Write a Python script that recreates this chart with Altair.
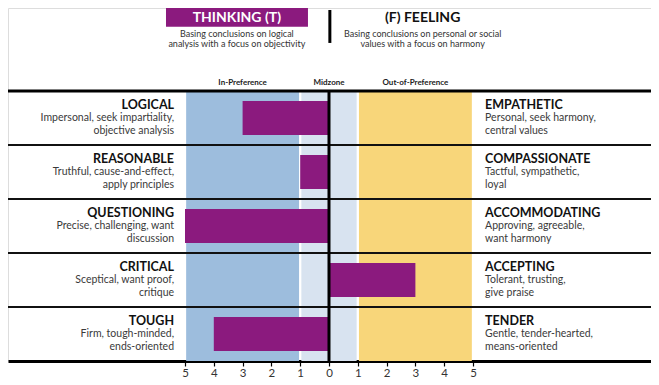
import altair as alt
import pandas as pd

# ---------------- data ----------------
left_titles = ["LOGICAL", "REASONABLE", "QUESTIONING", "CRITICAL", "TOUGH"]
left_descs = [
    "Impersonal, seek impartiality,\nobjective analysis",
    "Truthful, cause-and-effect,\napply principles",
    "Precise, challenging, want\ndiscussion",
    "Sceptical, want proof,\ncritique",
    "Firm, tough-minded,\nends-oriented",
]
right_titles = ["EMPATHETIC", "COMPASSIONATE", "ACCOMMODATING", "ACCEPTING", "TENDER"]
right_descs = [
    "Personal, seek harmony,\ncentral values",
    "Tactful, sympathetic,\nloyal",
    "Approving, agreeable,\nwant harmony",
    "Tolerant, trusting,\ngive praise",
    "Gentle, tender-hearted,\nmeans-oriented",
]
# negative = Thinking side (left), positive = Feeling side (right)
scores = [-3, -1, -5, 3, -4]

zone_names = ["In-Preference", "Midzone", "Out-of-Preference"]
zone_start = [-5, -1, 1]
zone_end = [-1, 1, 5]
zone_colors = ["#9DBDDD", "#D8E3F0", "#F8D67A"]

tick_values = [-5, -4, -3, -2, -1, 0, 1, 2, 3, 4, 5]

left_header = "THINKING (T)"
left_sub = "Basing conclusions on logical\nanalysis with a focus on objectivity"
right_header = "(F) FEELING"
right_sub = "Basing conclusions on personal or social\nvalues with a focus on harmony"

# ---------------- layout ----------------
W, H = 643, 353
XDOM = [-11.146, 11.181]
YDOM = [0, 6.537]
PURPLE = "#8B1A7E"
FONT = "Lato"

n = len(left_titles)
rows = pd.DataFrame({
    "row": list(range(n - 1, -1, -1)),  # top row = highest index
    "lt": left_titles, "ld": left_descs,
    "rt": right_titles, "rd": right_descs,
    "score": scores,
})
rows["y0"] = rows["row"] + 0.185
rows["y1"] = rows["row"] + 0.815
rows["ty"] = rows["row"] + 1 - 0.333
rows["dy"] = rows["row"] + 1 - 0.556
rows["zero"] = 0
rows["lx"] = -5.38
rows["rx"] = 5.42

zones = pd.DataFrame({"name": zone_names, "x0": zone_start, "x1": zone_end,
                      "color": zone_colors, "y0": 0, "y1": 5})
zones["xa"] = zones["x0"] + 0.04
zones["xb"] = zones["x1"] - 0.04
zones["cx"] = (zones["x0"] + zones["x1"]) / 2
zones["hy"] = 5.11

xs = alt.Scale(domain=XDOM, nice=False, zero=False)
ys = alt.Scale(domain=YDOM, nice=False, zero=False)

x_axis = alt.Axis(values=tick_values, labelExpr="abs(datum.value)",
                  title=None, grid=False, domainColor="black",
                  domainWidth=3, tickColor="black", tickWidth=1.2,
                  tickSize=5, labelPadding=1, labelFontSize=11.5,
                  labelColor="#333333", labelFont=FONT, labelFlush=False)


def X(f):
    return alt.X(f, scale=xs, axis=x_axis)


def Y(f):
    return alt.Y(f, scale=ys, axis=None)


base = alt.Chart(rows)

bg = alt.Chart(zones).mark_rect().encode(
    x=X("xa:Q"), x2="xb:Q", y=Y("y0:Q"), y2="y1:Q",
    color=alt.Color("color:N", scale=None),
)

zone_labels = alt.Chart(zones).mark_text(
    fontSize=8, fontWeight="bold", font=FONT, color="#222222", baseline="alphabetic"
).encode(x=X("cx:Q"), y=Y("hy:Q"), text="name:N")

bars = base.mark_rect(color=PURPLE).encode(
    x=X("score:Q"), x2="zero:Q", y=Y("y0:Q"), y2="y1:Q",
)

lines_df = pd.DataFrame({"u": [1, 2, 3, 4]})
row_lines = alt.Chart(lines_df).mark_rule(color="#111111", strokeWidth=2).encode(
    y=Y("u:Q"))
top_line = alt.Chart(pd.DataFrame({"u": [5]})).mark_rule(color="black", strokeWidth=3).encode(
    y=Y("u:Q"))
zero_line = alt.Chart(pd.DataFrame({"x": [0], "y0": [0], "y1": [5]})).mark_rule(
    color="black", strokeWidth=3).encode(x=X("x:Q"), y=Y("y0:Q"), y2="y1:Q")

lt = base.mark_text(align="right", baseline="alphabetic", fontSize=12.5,
                    fontWeight="bold", font=FONT, color="#111111").encode(
    x=X("lx:Q"), y=Y("ty:Q"), text="lt:N")
ld = base.mark_text(align="right", baseline="alphabetic", fontSize=10.5,
                    font=FONT, color="#3a3a3a", lineBreak="\n", lineHeight=12.5).encode(
    x=X("lx:Q"), y=Y("dy:Q"), text="ld:N")
rt = base.mark_text(align="left", baseline="alphabetic", fontSize=12.5,
                    fontWeight="bold", font=FONT, color="#111111").encode(
    x=X("rx:Q"), y=Y("ty:Q"), text="rt:N")
rd = base.mark_text(align="left", baseline="alphabetic", fontSize=10.5,
                    font=FONT, color="#3a3a3a", lineBreak="\n", lineHeight=12.5).encode(
    x=X("rx:Q"), y=Y("dy:Q"), text="rd:N")

# header
hdr = pd.DataFrame({
    "x": [-3.2, 3.25], "y": [6.28, 6.28], "t": [left_header, right_header],
    "c": ["white", "#111111"],
    "sy": [6.0, 6.0], "s": [left_sub, right_sub],
})
box = alt.Chart(pd.DataFrame({"x0": [-5.66], "x1": [-0.73], "y0": [6.19], "y1": [6.6]})).mark_rect(
    color=PURPLE).encode(x=X("x0:Q"), x2="x1:Q", y=Y("y0:Q"), y2="y1:Q")
hdr_text = alt.Chart(hdr).mark_text(fontSize=14, fontWeight="bold", font=FONT,
                                    baseline="alphabetic").encode(
    x=X("x:Q"), y=Y("y:Q"), text="t:N", color=alt.Color("c:N", scale=None))
hdr_sub = alt.Chart(hdr).mark_text(fontSize=9, font=FONT, color="#333333",
                                   baseline="alphabetic", lineBreak="\n",
                                   lineHeight=10).encode(
    x=X("x:Q"), y=Y("sy:Q"), text="s:N")
sep = alt.Chart(pd.DataFrame({"x": [0.03], "y0": [5.89], "y1": [6.5]})).mark_rule(
    color="black", strokeWidth=3).encode(x=X("x:Q"), y=Y("y0:Q"), y2="y1:Q")

chart = alt.layer(
    bg, bars, row_lines, top_line, zero_line, zone_labels,
    lt, ld, rt, rd, box, hdr_text, hdr_sub, sep,
).properties(
    width=W, height=H,
    autosize=alt.AutoSizeParams(type="none"),
    padding={"left": 0, "top": 0, "right": 0, "bottom": 16},
).configure_view(
    stroke=None, strokeWidth=0
).configure_axisY(
    grid=False, domain=False, ticks=False, labels=False
).configure(background="white")

chart.save("out.html", embed_options={"renderer": "svg", "actions": False})
